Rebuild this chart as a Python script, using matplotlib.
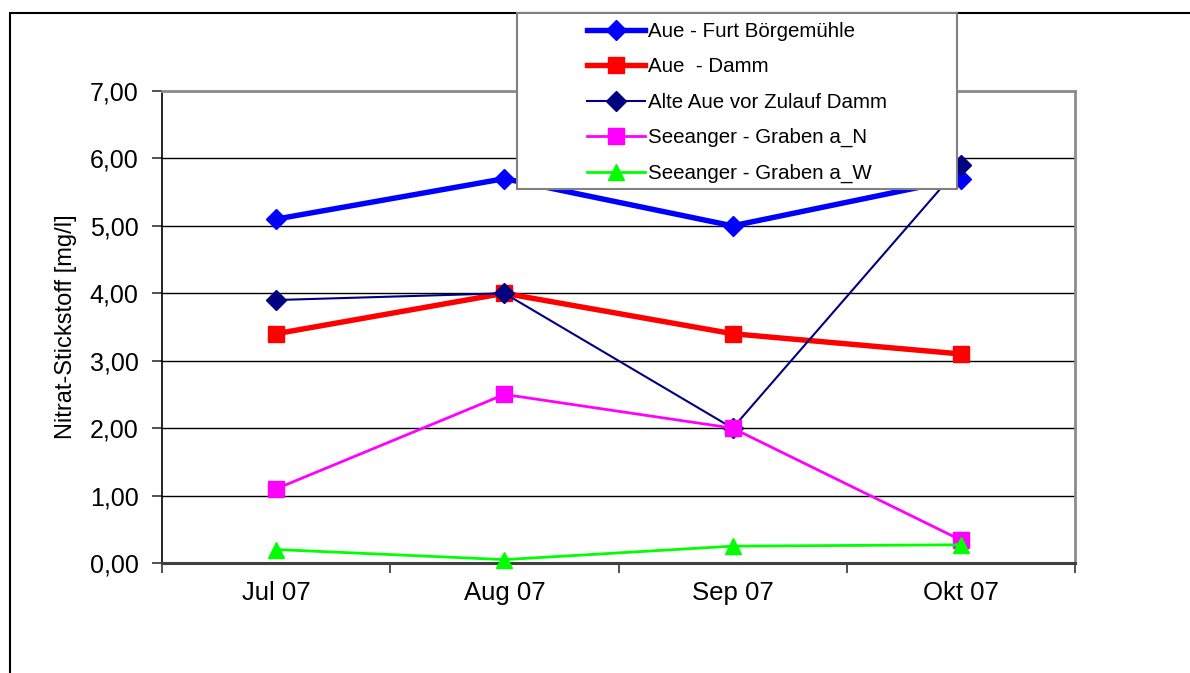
import matplotlib
matplotlib.use("Agg")
import matplotlib.pyplot as plt
from matplotlib.patches import Rectangle
from matplotlib.ticker import FuncFormatter, FixedLocator

plt.rcParams['font.family'] = ['Liberation Sans', 'DejaVu Sans']

months = ["Jul 07", "Aug 07", "Sep 07", "Okt 07"]
aue_furt = [5.1, 5.7, 5.0, 5.7]
aue_damm = [3.4, 4.0, 3.4, 3.1]
alte_aue = [3.9, 4.0, 2.0, 5.9]
seeanger_n = [1.1, 2.5, 2.0, 0.34]
seeanger_w = [0.2, 0.05, 0.25, 0.27]

labels = ["Aue - Furt Börgemühle", "Aue  - Damm", "Alte Aue vor Zulauf Damm",
          "Seeanger - Graben a_N", "Seeanger - Graben a_W"]

W, H = 1190, 673
fig = plt.figure(figsize=(W / 100, H / 100), dpi=100)

# outer chart frame
fig.patches.append(Rectangle((10 / W, -0.05), 1.1, 1 - 13 / H + 0.05,
                             transform=fig.transFigure, fill=False,
                             edgecolor='black', linewidth=1.5, zorder=-1))

ax = fig.add_axes([162 / W, (H - 563) / H, (1075 - 162) / W, (563 - 91) / H])
x = list(range(len(months)))

series = [
    (aue_furt, dict(color='#0000FF', lw=3.9, marker='D', ms=10)),
    (aue_damm, dict(color='#FF0000', lw=3.9, marker='s', ms=11)),
    (alte_aue, dict(color='#000080', lw=1.5, marker='D', ms=10)),
    (seeanger_n, dict(color='#FF00FF', lw=2.0, marker='s', ms=11)),
    (seeanger_w, dict(color='#00FF00', lw=2.0, marker='^', ms=11.5)),
]
handles = []
for (vals, st), lab in zip(series, labels):
    h, = ax.plot(x, vals, color=st['color'], lw=st['lw'], marker=st['marker'],
                 ms=st['ms'], mfc=st['color'], mec=st['color'], label=lab,
                 clip_on=False, zorder=3)
    handles.append(h)

ax.set_xlim(-0.5, len(months) - 0.5)
ax.set_ylim(0, 7)
ax.yaxis.set_major_locator(FixedLocator(range(0, 8)))
ax.yaxis.set_major_formatter(FuncFormatter(lambda v, p: f"{v:.2f}".replace('.', ',')))
ax.grid(axis='y', color='black', lw=1.0, zorder=1)
ax.set_axisbelow(True)

# category boundaries as ticks, labels centred between them
ax.set_xticks([i - 0.5 for i in range(len(months) + 1)])
ax.set_xticklabels([])
ax.set_xticks(x, minor=True)
ax.set_xticklabels(months, minor=True)
ax.tick_params(axis='x', which='major', direction='out', length=7, width=1.2,
               color='#333333')
ax.tick_params(axis='x', which='minor', length=0, pad=13, labelsize=18.5)
ax.tick_params(axis='y', direction='out', length=7, width=1.2, color='#333333',
               pad=10, labelsize=18)

ax.spines['left'].set_color('black')
ax.spines['left'].set_linewidth(1.2)
ax.spines['bottom'].set_color('#404040')
ax.spines['bottom'].set_linewidth(2.2)
for s in ('top', 'right'):
    ax.spines[s].set_color('#8c8c8c')
    ax.spines[s].set_linewidth(2.0)

ax.set_ylabel("Nitrat-Stickstoff [mg/l]", fontsize=17, labelpad=9)

# legend box overlapping the plot area
fig.patches.append(Rectangle((517 / W, 1 - 189 / H), (957 - 517) / W, (189 - 13) / H,
                             transform=fig.transFigure, facecolor='white',
                             edgecolor='#808080', linewidth=1.5, zorder=4))
leg = fig.legend(handles=handles, labels=labels, loc='center',
                 bbox_to_anchor=((517 + 957) / 2 / W, 1 - 102.5 / H),
                 frameon=False, fontsize=14.8, handlelength=2.8,
                 handletextpad=0.15, labelspacing=0.8, borderpad=0)
leg.set_zorder(5)

fig.savefig("out.png", dpi=100)
